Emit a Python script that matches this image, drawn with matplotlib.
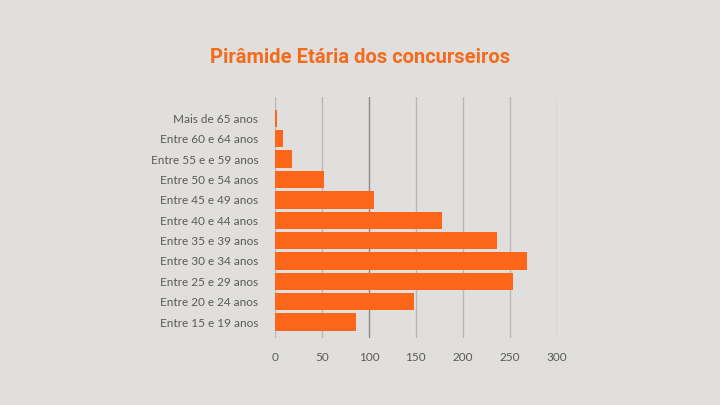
import matplotlib.pyplot as plt

faixas = ['Entre 15 e 19 anos', 'Entre 20 e 24 anos', 'Entre 25 e 29 anos',
          'Entre 30 e 34 anos', 'Entre 35 e 39 anos', 'Entre 40 e 44 anos',
          'Entre 45 e 49 anos', 'Entre 50 e 54 anos', 'Entre 55 e e 59 anos',
          'Entre 60 e 64 anos', 'Mais de 65 anos']
qtd = [86, 148, 254, 268, 237, 178, 105, 52, 18, 9, 2]
xticks = [0, 50, 100, 150, 200, 250, 300]

bg = '#e0dfdd'
laranja = '#fd6618'

fig = plt.figure(figsize=(7.2, 4.05), dpi=100, facecolor=bg)
ax = fig.add_axes([0.382, 0.165, 0.391, 0.596], facecolor=bg)

for x in xticks:
    cor = '#8a8a8a' if x == 100 else '#b8b8b8'
    ax.axvline(x, color=cor, lw=1.0, zorder=0)

ax.barh(range(len(faixas)), qtd, height=0.85, color=laranja, zorder=2)

ax.set_xlim(0, 300)
ax.set_ylim(-0.79, 11.06)
ax.set_xticks(xticks)
ax.set_yticks(range(len(faixas)))
ax.set_yticklabels(faixas)
ax.tick_params(length=0, labelsize=8.5, labelcolor='#595959')
ax.tick_params(axis='y', pad=12)
ax.tick_params(axis='x', pad=10)
for lbl in ax.get_xticklabels() + ax.get_yticklabels():
    lbl.set_fontfamily('Lato')
for s in ax.spines.values():
    s.set_visible(False)

fig.text(0.5, 0.857, 'Pirâmide Etária dos concurseiros', ha='center', va='center',
         fontsize=14.5, fontweight='bold', family='Roboto', color='#f36b1c')

fig.savefig('out.png', dpi=100, facecolor=bg)
